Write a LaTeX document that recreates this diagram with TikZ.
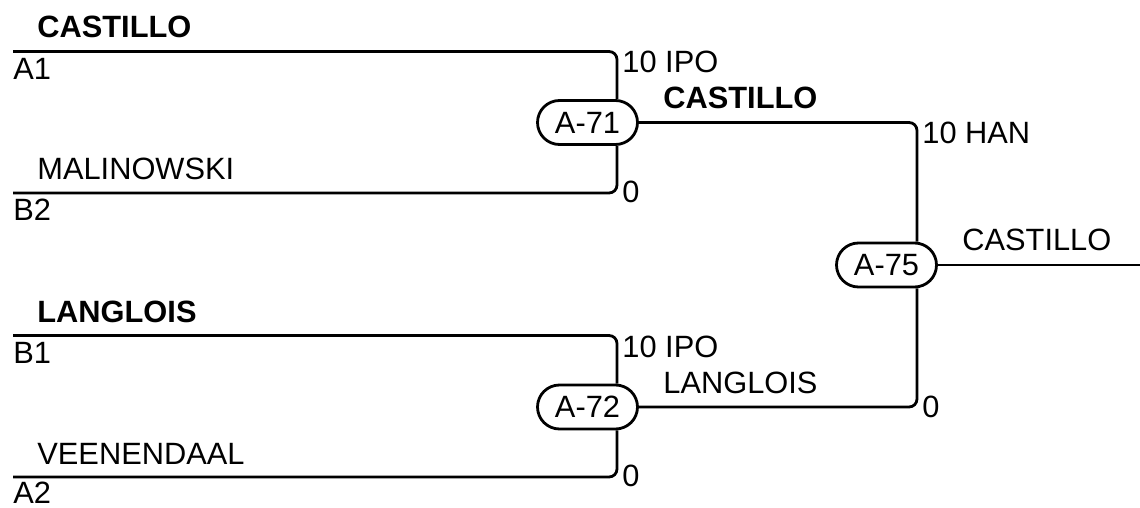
\documentclass[tikz,border=0pt]{standalone}
\usepackage{fontspec}
\setmainfont{Liberation Sans}

\begin{document}
\begin{tikzpicture}[x=0.5pt, y=-0.5pt,
  bracket/.style={line width=1.4pt, rounded corners=4pt},
  game/.style={draw, line width=1.4pt, rounded corners=11pt, minimum width=50pt, minimum height=22pt, inner sep=0pt, font=\fontsize{15.4}{18}\selectfont},
  lbl/.style={anchor=base west, inner sep=0pt, font=\fontsize{15.4}{18}\selectfont},
  win/.style={lbl, font=\fontsize{15.4}{18}\selectfont\bfseries}]
\useasboundingbox (0,0) rectangle (1140,508);
\node[game] (g71) at (587.5,122.5) {A-71};
\node[game] (g72) at (587.5,407) {A-72};
\node[game] (g75) at (886.5,265) {A-75};
\coordinate (a1) at (13,51.5);
\coordinate (b2) at (13,193);
\coordinate (b1) at (13,335.5);
\coordinate (a2) at (13,477);
\coordinate (t71) at (617,51.5);
\coordinate (u71) at (617,193);
\coordinate (t72) at (617,335.5);
\coordinate (u72) at (617,477);
\coordinate (t75) at (917,122.5);
\coordinate (u75) at (917,407);
\coordinate (champ) at (1140,265);
\draw[bracket] (a1) -- (t71) -- (g71.north -| t71);
\draw[bracket] (b2) -- (u71) -- (g71.south -| u71);
\draw[bracket] (b1) -- (t72) -- (g72.north -| t72);
\draw[bracket] (a2) -- (u72) -- (g72.south -| u72);
\draw[bracket] (g71.east) -- (t75) -- (g75.north -| t75);
\draw[bracket] (g72.east) -- (u75) -- (g75.south -| u75);
\draw[bracket] (g75.east) -- (champ);
\node[win] (n1) at (37,37.5) {CASTILLO};
\node[lbl] (s1) at (13,80) {A1};
\node[lbl] (n2) at (37,179) {MALINOWSKI};
\node[lbl] (s2) at (13,220.5) {B2};
\node[win] (n3) at (37,322.5) {LANGLOIS};
\node[lbl] (s3) at (13,363) {B1};
\node[lbl] (n4) at (37,464.5) {VEENENDAAL};
\node[lbl] (s4) at (13,503.5) {A2};
\node[lbl] (p1) at (622,72.5) {10 IPO};
\node[lbl] (p2) at (622,202.5) {0};
\node[lbl] (p3) at (622,357) {10 IPO};
\node[lbl] (p4) at (622,486.5) {0};
\node[lbl] (p5) at (922,143) {10 HAN};
\node[lbl] (p6) at (922,417) {0};
\node[win] (w71) at (663,108.5) {CASTILLO};
\node[lbl] (w72) at (663,393) {LANGLOIS};
\node[lbl] (w75) at (962,250) {CASTILLO};
\end{tikzpicture}
\end{document}
